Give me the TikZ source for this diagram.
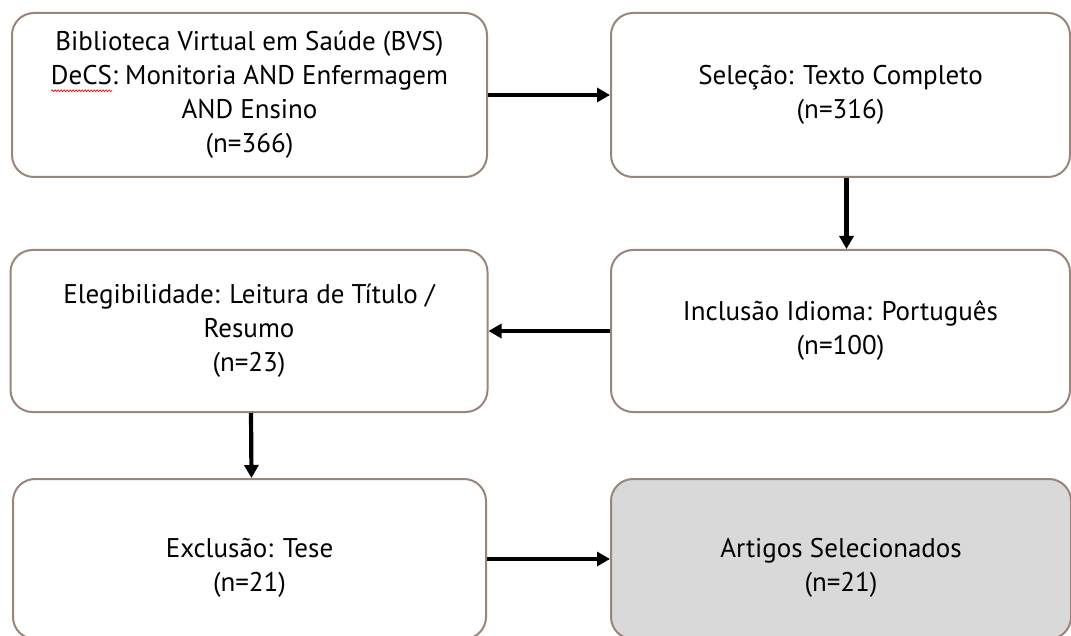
\documentclass[tikz,border=0pt]{standalone}
\usepackage{fontspec}
\setmainfont{PT Sans}
\usetikzlibrary{arrows.meta,decorations.pathmorphing}
\definecolor{boxline}{RGB}{155,132,122}
\definecolor{boxgray}{RGB}{217,217,217}
\newlength\decw
\newcommand\redwave[1]{\settowidth\decw{#1}\rlap{\tikz[baseline=0pt,x=1pt,y=1pt,sharp corners]\draw[red,line width=0.7pt,sharp corners,decorate,decoration={snake,amplitude=0.9pt,segment length=3pt}] (0,-6) -- (\decw,-6);}#1}
\begin{document}
\begin{tikzpicture}[x=1pt,y=-1pt,
  stepbox/.style={draw=boxline,line width=2pt,rounded corners=22pt,fill=white,
    align=center,inner sep=0pt,font=\fontsize{27}{34}\selectfont,text=black},
  steptext/.style={align=center,inner sep=0pt,font=\fontsize{27}{34}\selectfont,text=black},
  flowarrow/.style={line width=4.2pt,-{Triangle[length=13pt,width=14pt]}}]
\useasboundingbox (0,0) rectangle (1071,636);
\clip (0,0) rectangle (1071,636);
\node[stepbox,minimum width=475pt,minimum height=164pt] (b1) at (249.5,95)
  {Biblioteca Virtual em Saúde (BVS)\\\redwave{DeCS}: Monitoria AND Enfermagem\\AND Ensino\\(n=366)};
\node[stepbox,minimum width=459pt,minimum height=164pt] (b2) at (840.5,95)
  {Seleção: Texto Completo\\(n=316)};
\node[stepbox,minimum width=477pt,minimum height=162pt] (b3) at (249,331)
  {Elegibilidade: Leitura de Título /\\Resumo\\(n=23)};
\node[stepbox,minimum width=459pt,minimum height=162pt] (b4) at (840.5,331)
  {Inclusão Idioma: Português\\(n=100)};
\node[stepbox,minimum width=473pt,minimum height=160pt] (b5) at (249.5,559) {};
\node[steptext] (b5t) at ([yshift=-9pt]b5.center) {Exclusão: Tese\\(n=21)};
\node[stepbox,fill=boxgray,minimum width=460pt,minimum height=160pt] (b6) at (841,559) {};
\node[steptext] (b6t) at ([yshift=-9pt]b6.center) {Artigos Selecionados\\(n=21)};
\draw[flowarrow] (b1.east) -- (b2.west);
\draw[flowarrow] ([xshift=6pt]b2.south) -- ([xshift=6pt]b4.north);
\draw[flowarrow] (b4.west) -- (b3.east);
\draw[flowarrow] ([xshift=2pt]b3.south) -- ([xshift=2pt]b5.north);
\draw[flowarrow] (b5.east) -- (b6.west);
\end{tikzpicture}
\end{document}
